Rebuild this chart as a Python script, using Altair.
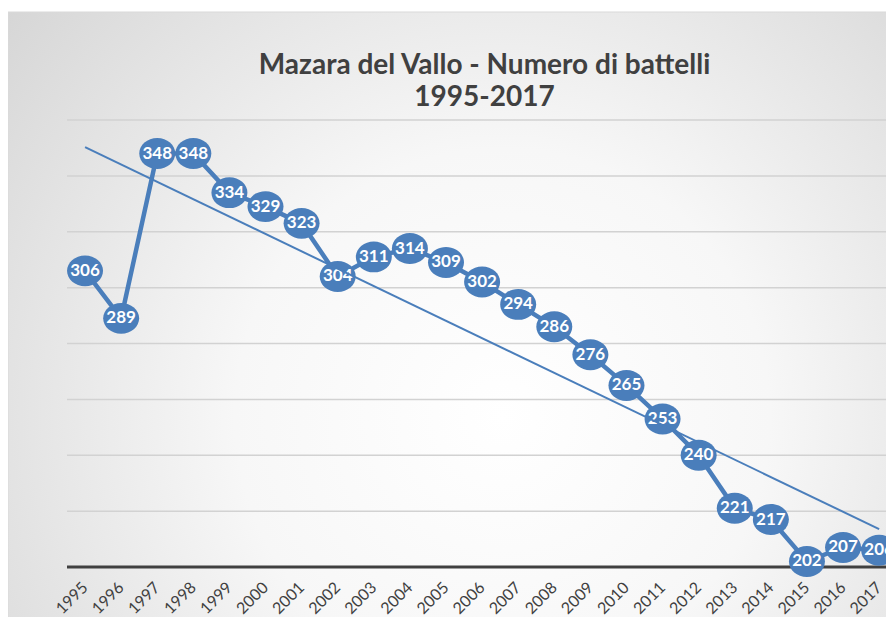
import altair as alt
import pandas as pd

years = list(range(1995, 2018))
boats = [306, 289, 348, 348, 334, 329, 323, 304, 311, 314, 309, 302,
         294, 286, 276, 265, 253, 240, 221, 217, 202, 207, 206]
y_ticks = [220, 240, 260, 280, 300, 320, 340, 360]
title_lines = ["Mazara del Vallo - Numero di battelli", "1995-2017"]

df = pd.DataFrame({"anno": years, "battelli": boats})
blue = "#4a7ebb"

xscale = alt.Scale(domain=[1994.5, 2017.19], nice=False, zero=False)
yscale = alt.Scale(domain=[200, 360], nice=False, zero=False)

x_enc = alt.X("anno:Q", scale=xscale,
              axis=alt.Axis(values=years, format="d", labelAngle=-45, grid=False,
                            ticks=False, domain=False, labelFontSize=16,
                            labelColor="#404040", labelFont="Lato", labelPadding=12,
                            labelOffset=-6,
                            title=None, labelOverlap=False, labelFlush=False, zindex=1))
y_enc = alt.Y("battelli:Q", scale=yscale, axis=None)

grad = alt.RadialGradient(
    gradient="radial",
    stops=[alt.GradientStop(offset=0, color="#ffffff"),
           alt.GradientStop(offset=0.35, color="#f7f7f7"),
           alt.GradientStop(offset=1, color="#cbcbcb")],
    x1=0.55, y1=0.6, r1=0, x2=0.55, y2=0.6, r2=0.85)

bg = alt.Chart(alt.Data(values=[{"a": 1}])).mark_rect(
    fill=grad, stroke="#d9d9d9", strokeWidth=1).encode(
    x=alt.value(-59), x2=alt.value(840), y=alt.value(-108), y2=alt.value(520))

grid = alt.Chart(pd.DataFrame({"v": y_ticks})).mark_rule(
    color="#d2d2d2", strokeWidth=1.5).encode(
    y=alt.Y("v:Q", scale=yscale, axis=None), x=alt.value(0), x2=alt.value(840))

base = alt.Chart(pd.DataFrame({"v": [200]})).mark_rule(
    color="#404040", strokeWidth=3).encode(
    y=alt.Y("v:Q", scale=yscale, axis=None), x=alt.value(0), x2=alt.value(840))

line = alt.Chart(df).mark_line(color=blue, strokeWidth=4.5).encode(x=x_enc, y=y_enc)

pts = alt.Chart(df).mark_point(
    shape="M-1,0A1,0.86,0,1,1,1,0A1,0.86,0,1,1,-1,0Z", size=1296,
    filled=True, color=blue, opacity=1).encode(x=x_enc, y=y_enc)

txt = alt.Chart(df).mark_text(
    color="white", font="Lato", fontWeight="bold", fontSize=17,
    align="center", baseline="middle").encode(x=x_enc, y=y_enc, text="battelli:Q")

trend = alt.Chart(df).transform_regression("anno", "battelli").mark_line(
    color=blue, strokeWidth=2).encode(x=x_enc, y=y_enc)

chart = alt.layer(bg, grid, base, line, pts, txt, trend).properties(
    width=819, height=447,
    autosize=alt.AutoSizeParams(type="none"),
    padding={"left": 59, "top": 112, "right": 0, "bottom": 50},
    title=alt.TitleParams(text=title_lines, fontSize=28, font="Lato",
                          fontWeight="bold", color="#404040", anchor="middle",
                          offset=-100, lineHeight=32, dx=8, frame="group"),
).configure_view(stroke=None).configure(background="white")

chart.save("out.html", embed_options={"renderer": "svg", "actions": False})
